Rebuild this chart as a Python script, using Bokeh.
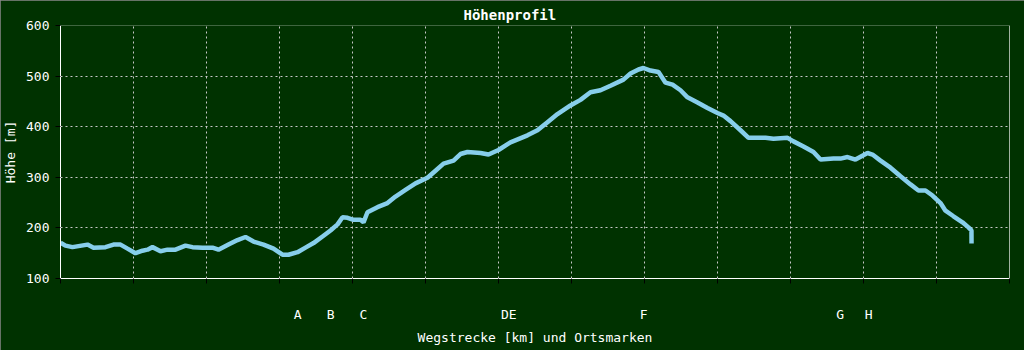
from bokeh.plotting import figure
from bokeh.models import Range1d, FixedTicker, Span, ColumnDataSource
from bokeh.embed import file_html
from bokeh.resources import INLINE

# distance along the route (km) and elevation (m)
dist_km = [0.0, 0.068, 0.164, 0.37, 0.452, 0.616, 0.726, 0.822, 0.918, 1.027,
           1.123, 1.192, 1.26, 1.37, 1.466, 1.575, 1.712, 1.808, 1.945, 2.082,
           2.164, 2.301, 2.425, 2.534, 2.644, 2.781, 2.918, 3.041, 3.123, 3.247,
           3.356, 3.466, 3.589, 3.699, 3.795, 3.863, 3.932, 4.014, 4.11, 4.151,
           4.205, 4.342, 4.479, 4.589, 4.726, 4.863, 5.027, 5.137, 5.247, 5.384,
           5.479, 5.575, 5.753, 5.863, 6.0, 6.164, 6.397, 6.534, 6.671, 6.808,
           6.986, 7.123, 7.26, 7.397, 7.534, 7.712, 7.808, 7.918, 7.986, 8.082,
           8.192, 8.288, 8.384, 8.493, 8.589, 8.726, 8.863, 9.0, 9.082, 9.178,
           9.315, 9.425, 9.658, 9.767, 9.959, 10.041, 10.178, 10.315, 10.411, 10.589,
           10.685, 10.781, 10.89, 11.055, 11.123, 11.233, 11.37, 11.507, 11.644, 11.753,
           11.849, 11.945, 12.055, 12.123, 12.233, 12.356, 12.438, 12.479, 12.48]
elev_m = [171, 165, 162, 167, 161, 162, 167, 167, 159, 150,
          155, 157, 162, 154, 157, 157, 165, 162, 161, 161,
          157, 167, 176, 182, 173, 167, 159, 147, 147, 152,
          161, 170, 183, 195, 207, 221, 220, 216, 216, 211,
          231, 241, 249, 262, 275, 288, 299, 313, 327, 333,
          346, 350, 348, 345, 354, 369, 383, 393, 409, 425,
          442, 453, 468, 472, 481, 493, 505, 513, 516, 511,
          508, 487, 483, 472, 458, 448, 437, 427, 422, 411,
          393, 378, 378, 376, 378, 371, 361, 350, 335, 337,
          337, 340, 335, 348, 345, 333, 319, 302, 286, 274,
          274, 264, 249, 234, 223, 211, 201, 195, 169]

# place markers
marker_km = [3.25, 3.70, 4.15, 6.14, 7.99, 10.68, 11.07]
marker_labels = ["A", "B", "C", "DE", "F", "G", "H"]

km_ticks = list(range(0, 14))
y_ticks = [100, 200, 300, 400, 500, 600]

BG = "#003200"
FONT = "DejaVu Sans Mono"

p = figure(width=1024, height=350, output_backend="svg", toolbar_location=None,
           x_range=Range1d(0, 13), y_range=Range1d(100, 600),
           min_border_left=60, min_border_right=15, min_border_top=25, min_border_bottom=72,
           title="Höhenprofil")
p.styles = {"outline": "1px solid #8a8a8a", "outline-offset": "-1px"}
p.background_fill_color = BG
p.border_fill_color = BG
p.outline_line_color = None

p.title.text_color = "white"
p.title.text_font = FONT
p.title.text_font_size = "14px"
p.title.text_font_style = "bold"
p.title.align = "left"
p.title.offset = 403
p.title.standoff = 6

src = ColumnDataSource(dict(x=dist_km, y=elev_m))
p.line("x", "y", source=src, line_color="#87CEEB", line_width=4.5)

# x axis: minor ticks on km, major (label only) on place markers
xa = p.xaxis[0]
xa.ticker = FixedTicker(ticks=marker_km, minor_ticks=km_ticks)
xa.major_label_overrides = {m: l for m, l in zip(marker_km, marker_labels)}
xa.major_tick_line_color = None
xa.major_tick_out = 0
xa.major_tick_in = 0
xa.minor_tick_line_color = "black"
xa.minor_tick_out = 5
xa.minor_tick_in = 0
xa.major_label_standoff = 23
xa.axis_line_color = "white"
xa.major_label_text_color = "white"
xa.major_label_text_font = FONT
xa.major_label_text_font_size = "13px"
xa.axis_label = "Wegstrecke [km] und Ortsmarken"
xa.axis_label_text_color = "white"
xa.axis_label_text_font = FONT
xa.axis_label_text_font_size = "13px"
xa.axis_label_text_font_style = "normal"
xa.axis_label_standoff = 5

ya = p.yaxis[0]
ya.ticker = FixedTicker(ticks=y_ticks)
ya.minor_tick_line_color = None
ya.major_tick_line_color = "black"
ya.major_tick_out = 5
ya.major_tick_in = 0
ya.major_label_standoff = 6
ya.axis_line_color = "white"
ya.major_label_text_color = "white"
ya.major_label_text_font = FONT
ya.major_label_text_font_size = "13px"
ya.axis_label = "Höhe [m]"
ya.axis_label_text_color = "white"
ya.axis_label_text_font = FONT
ya.axis_label_text_font_size = "13px"
ya.axis_label_text_font_style = "normal"
ya.axis_label_standoff = 5

p.xgrid.ticker = FixedTicker(ticks=km_ticks)
p.xgrid.grid_line_color = "#c8c8c8"
p.xgrid.grid_line_dash = "2 3"
p.ygrid.grid_line_color = "#c8c8c8"
p.ygrid.grid_line_dash = "2 3"

p.add_layout(Span(location=13, dimension="height", line_color="white", line_width=1))

open("out.html", "w").write(file_html(p, INLINE))
